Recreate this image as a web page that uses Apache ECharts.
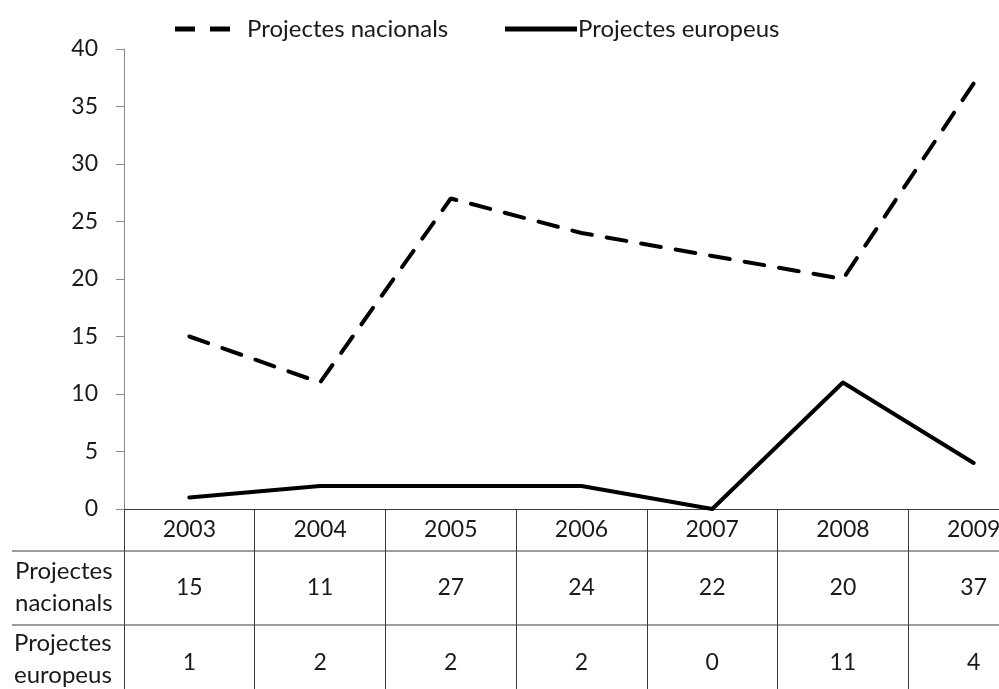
<!DOCTYPE html>
<html>
<head>
<meta charset="utf-8">
<script src="https://cdn.jsdelivr.net/npm/echarts@6/dist/echarts.min.js"></script>
<style>
  html, body { margin: 0; padding: 0; background: #fff; overflow: hidden; width: 999px; height: 689px; }
  #chart { width: 1040px; height: 689px; }
</style>
</head>
<body>
<div id="chart"></div>
<script>
const years = ['2003', '2004', '2005', '2006', '2007', '2008', '2009'];
const nacionals = [15, 11, 27, 24, 22, 20, 37];
const europeus = [1, 2, 2, 2, 0, 11, 4];
const yTicks = { min: 0, max: 40, interval: 5 };

// the reference is cropped: its last table column runs past the right edge,
// so the chart is drawn wider than the window and clipped
const FONT = 'Lato';
const TEXT_COLOR = '#1a1a1a';
const TABLE_COLOR = '#3a3a3a';
const CHART_W = 1040;
const GRID_LEFT = 124, GRID_TOP = 49, GRID_RIGHT = 1, GRID_H = 460;
const ROW1_Y = 551, ROW2_Y = 625;

const chart = echarts.init(document.getElementById('chart'), null, { renderer: 'canvas' });

const option = {
  animation: false,
  textStyle: { fontFamily: FONT },
  grid: { left: GRID_LEFT, top: GRID_TOP, right: GRID_RIGHT, height: GRID_H, containLabel: false },
  legend: [{
    data: [{ name: 'Projectes nacionals', icon: 'path://M0,0h20v5h-20zM35,0h20v5h-20z' }],
    left: 170, top: 12,
    itemWidth: 55, itemHeight: 5,
    itemStyle: { color: '#000' },
    textStyle: { fontFamily: FONT, fontSize: 24, color: TEXT_COLOR, padding: [0, 0, 0, 12] }
  }, {
    data: [{ name: 'Projectes europeus', icon: 'rect' }],
    left: 500, top: 12,
    itemWidth: 72, itemHeight: 5,
    itemGap: 0,
    itemStyle: { color: '#000' },
    textStyle: { fontFamily: FONT, fontSize: 24, color: TEXT_COLOR, padding: [0, 0, 0, -4] }
  }],
  xAxis: [{
    type: 'category',
    data: years,
    boundaryGap: true,
    axisLine: { show: true, onZero: false, lineStyle: { color: TABLE_COLOR, width: 1 } },
    axisTick: { show: true, interval: 0, length: 180, lineStyle: { color: TABLE_COLOR, width: 1 } },
    axisLabel: { interval: 0, margin: 9, fontSize: 23, color: TEXT_COLOR, fontFamily: FONT }
  }, {
    type: 'category',
    data: nacionals.map(String),
    position: 'bottom',
    axisLine: { show: false },
    axisTick: { show: false },
    axisLabel: { interval: 0, margin: 67, fontSize: 23, color: TEXT_COLOR, fontFamily: FONT }
  }, {
    type: 'category',
    data: europeus.map(String),
    position: 'bottom',
    axisLine: { show: false },
    axisTick: { show: false },
    axisLabel: { interval: 0, margin: 142, fontSize: 23, color: TEXT_COLOR, fontFamily: FONT }
  }],
  yAxis: {
    type: 'value',
    min: yTicks.min, max: yTicks.max, interval: yTicks.interval,
    axisLine: { show: true, lineStyle: { color: '#8a8a8a', width: 1 } },
    axisTick: { show: true, length: 8, lineStyle: { color: '#8a8a8a' } },
    axisLabel: { margin: 26, fontSize: 23, color: TEXT_COLOR, fontFamily: FONT },
    splitLine: { show: false }
  },
  series: [{
    name: 'Projectes nacionals',
    type: 'line',
    data: nacionals,
    symbol: 'none',
    itemStyle: { color: '#000' },
    lineStyle: { color: '#000', width: 4, type: [20, 15], cap: 'round' }
  }, {
    name: 'Projectes europeus',
    type: 'line',
    data: europeus,
    symbol: 'none',
    itemStyle: { color: '#000' },
    lineStyle: { color: '#000', width: 4, cap: 'round', join: 'round' }
  }],
  graphic: [
    { type: 'line', shape: { x1: 12, y1: ROW1_Y, x2: CHART_W, y2: ROW1_Y }, style: { stroke: TABLE_COLOR, lineWidth: 1 } },
    { type: 'line', shape: { x1: 12, y1: ROW2_Y, x2: CHART_W, y2: ROW2_Y }, style: { stroke: TABLE_COLOR, lineWidth: 1 } },
    { type: 'text', left: 15, top: ROW1_Y + 4,
      style: { text: 'Projectes\nnacionals', fontFamily: FONT, fontSize: 24, lineHeight: 32, fill: TEXT_COLOR, align: 'right' } },
    { type: 'text', left: 14, top: ROW2_Y + 2,
      style: { text: 'Projectes\neuropeus', fontFamily: FONT, fontSize: 24, lineHeight: 32, fill: TEXT_COLOR, align: 'right' } }
  ]
};

chart.setOption(option);
</script>
</body>
</html>
